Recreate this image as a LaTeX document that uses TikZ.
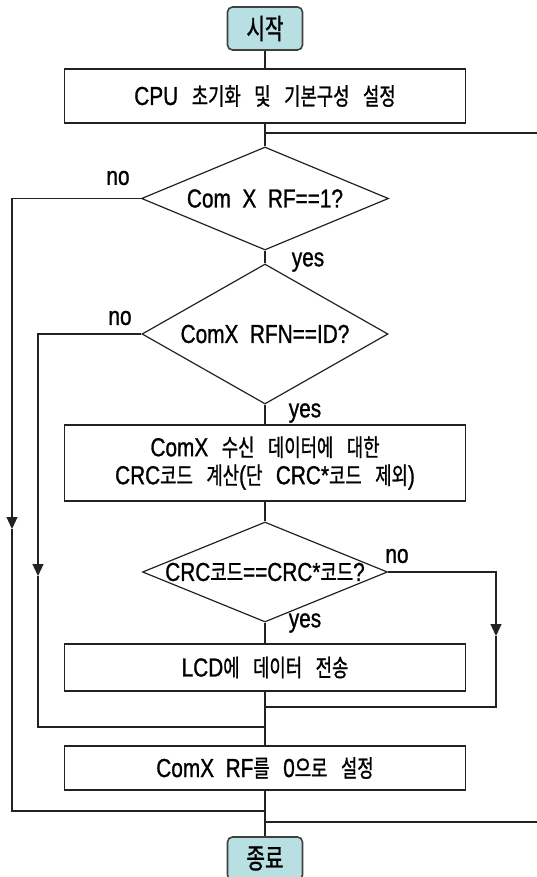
\documentclass[tikz,border=0pt]{standalone}
\usepackage{fontspec}
\setmainfont[WordSpace=3.4,FakeStretch=0.74,FakeBold=1]{Noto Sans CJK KR}
\newfontfamily\latfam[FakeStretch=0.8,WordSpace=2,FakeBold=1]{Liberation Sans}
\newfontfamily\krtitle[FakeStretch=0.72,FakeBold=1]{Noto Sans CJK KR}
\newcommand\latt[1]{{\latfam\fontsize{26pt}{28pt}\selectfont #1}}
\usetikzlibrary{shapes.geometric,arrows.meta}
\definecolor{termfill}{HTML}{B8E0E3}
\definecolor{linec}{HTML}{222222}
\begin{document}
\begin{tikzpicture}[x=1pt,y=-1pt,
  box/.style={draw=linec, line width=1.2pt, rectangle, inner sep=0pt,
    minimum width=401pt, font=\fontsize{24pt}{28pt}\selectfont, align=center},
  term/.style={draw=black!75, line width=1.6pt, fill=termfill, rounded corners=5pt,
    minimum width=75pt, minimum height=43pt, inner sep=0pt,
    font=\krtitle\fontsize{28pt}{30pt}\selectfont},
  dia/.style={draw=linec, line width=1.2pt, diamond, inner sep=0pt,
    font=\fontsize{24pt}{28pt}\selectfont},
  lbl/.style={inner sep=0pt, font=\latfam\fontsize{26pt}{28pt}\selectfont},
  conn/.style={draw=linec, line width=1.2pt},
  arr/.style={conn, -{Triangle[width=11pt,length=12pt]}}]
\useasboundingbox (0,0) rectangle (537,877);

% terminals
\node[term] (start) at (265,28.5) {시작};
\node[term] (end) at (265,858.5) {종료};

% process boxes
\node[box, minimum height=54pt] (cpu) at (265,96) {\latt{CPU} 초기화 및 기본구성 설정};
\node[box, minimum height=76pt] (crc) at (265,463)
  {\latt{ComX} 수신 데이터에 대한\\\latt{CRC}코드 계산\latt{(}단 \latt{CRC*}코드 제외\latt{)}};
\node[box, minimum height=47pt] (lcd) at (265,667.5) {\latt{LCD}에 데이터 전송};
\node[box, minimum height=44pt] (rf) at (265,768) {\latt{ComX RF}를 \latt{0}으로 설정};

% decisions
\node[dia, minimum width=247pt, minimum height=103pt] (d1) at (265,198.5)
  {\makebox[0pt]{\latt{Com X RF==1?}}};
\node[dia, minimum width=246pt, minimum height=140pt] (d2) at (265,334)
  {\makebox[0pt]{\latt{ComX RFN==ID?}}};
\node[dia, minimum width=245pt, minimum height=100pt] (d3) at (265,572)
  {\makebox[0pt]{\latt{CRC}코드\latt{==CRC*}코드\latt{?}}};

% labels
\node[lbl] (no1) at (118,178) {no};
\node[lbl] (no2) at (120,318) {no};
\node[lbl] (no3) at (397,556) {no};
\node[lbl] (yes1) at (308,262) {yes};
\node[lbl] (yes2) at (305,413) {yes};
\node[lbl] (yes3) at (305,623) {yes};

% junction coordinates
\coordinate (loopA) at (265,133);
\coordinate (loopAr) at (537,133);
\coordinate (loopB) at (265,822);
\coordinate (loopBr) at (537,822);
\coordinate (n1a) at (12,198.5);
\coordinate (n1tip) at (12,529);
\coordinate (n1b) at (12,811);
\coordinate (j1) at (265,811);
\coordinate (n2a) at (38,334);
\coordinate (n2tip) at (38,576);
\coordinate (n2b) at (38,727);
\coordinate (j2) at (265,727);
\coordinate (n3a) at (496,572);
\coordinate (n3tip) at (496,636);
\coordinate (n3b) at (496,707);
\coordinate (j3) at (266,707);

% main flow
\draw[conn] (start) -- (cpu);
\draw[conn] (cpu) -- (d1);
\draw[conn] (d1) -- (d2);
\draw[conn] (d2) -- (crc);
\draw[conn] (crc) -- (d3);
\draw[conn] (d3) -- (lcd);
\draw[conn] (lcd) -- (rf);
\draw[conn] (rf) -- (end);

% loop-back lines to the right edge
\draw[conn] (loopA) -- (loopAr);
\draw[conn] (loopB) -- (loopBr);

% no branches
\draw[arr] (d1.west) -- (n1a) -- (n1tip);
\draw[conn] (n1tip) -- (n1b) -- (j1);
\draw[arr] (d2.west) -- (n2a) -- (n2tip);
\draw[conn] (n2tip) -- (n2b) -- (j2);
\draw[arr] (d3.east) -- (n3a) -- (n3tip);
\draw[conn] (n3tip) -- (n3b) -- (j3);
\end{tikzpicture}
\end{document}
